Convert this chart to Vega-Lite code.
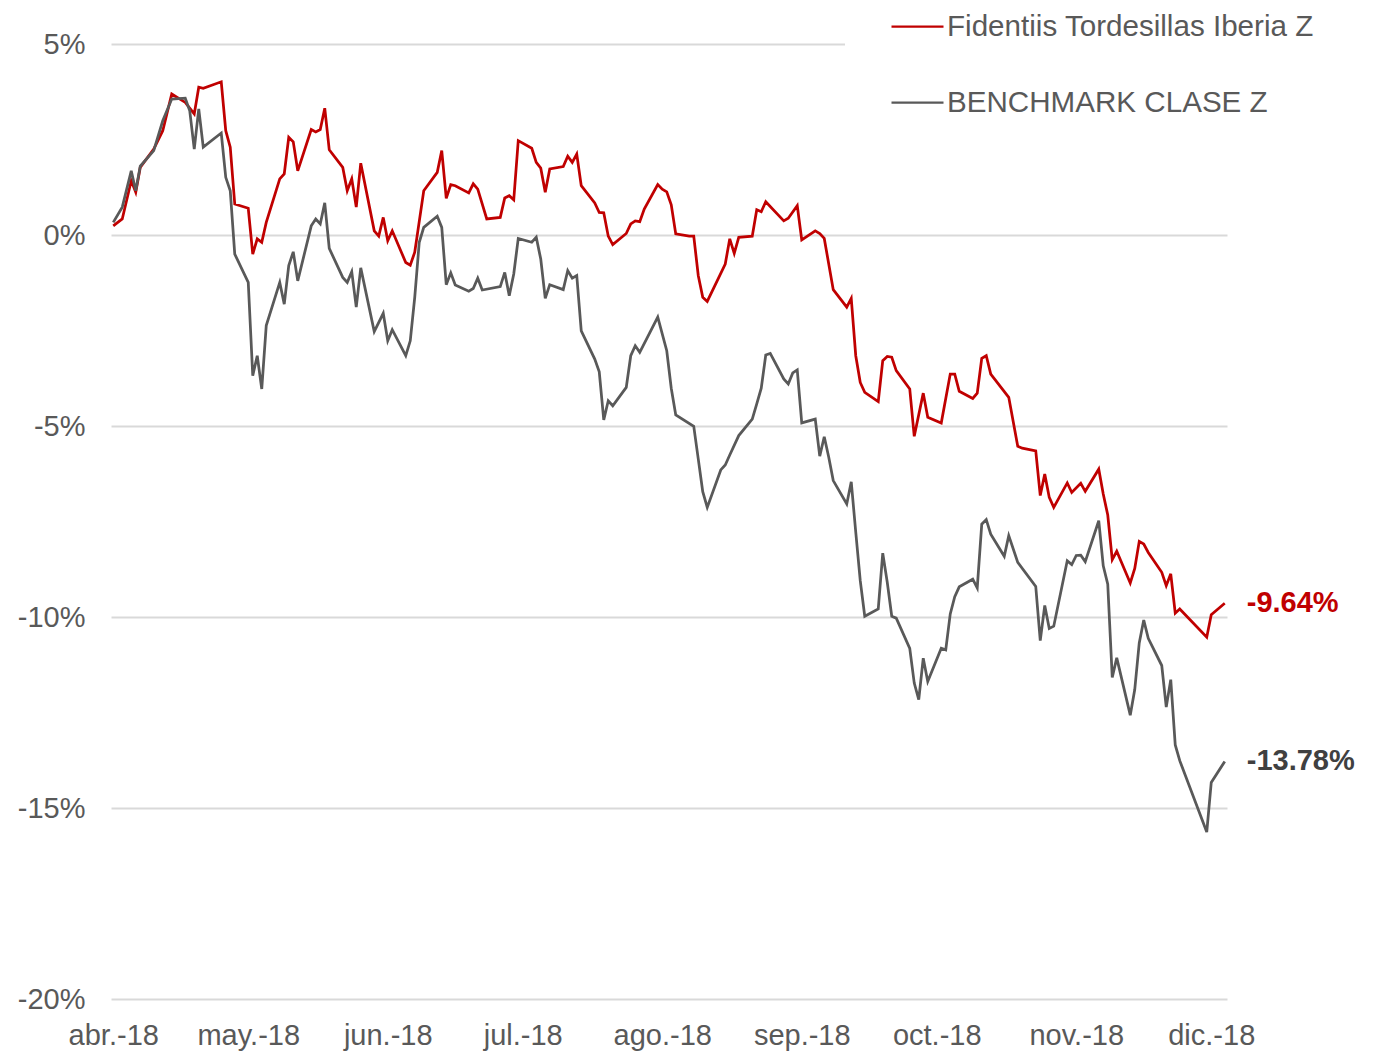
{
  "$schema": "https://vega.github.io/schema/vega-lite/v6.json",
  "width": 1116,
  "height": 955,
  "autosize": "none",
  "padding": {"left": 111, "top": 44, "right": 150, "bottom": 54},
  "background": "white",
  "config": {
    "view": {"stroke": null},
    "font": "Liberation Sans",
    "locale": {
      "number": {"decimal": ".", "thousands": ",", "grouping": [3], "currency": ["", " €"], "minus": "-", "percent": "%"},
      "time": {
        "dateTime": "%A, %e de %B de %Y, %X",
        "date": "%d/%m/%Y",
        "time": "%H:%M:%S",
        "periods": ["AM", "PM"],
        "days": ["domingo", "lunes", "martes", "miércoles", "jueves", "viernes", "sábado"],
        "shortDays": ["dom", "lun", "mar", "mié", "jue", "vie", "sáb"],
        "months": ["enero", "febrero", "marzo", "abril", "mayo", "junio", "julio", "agosto", "septiembre", "octubre", "noviembre", "diciembre"],
        "shortMonths": ["ene.", "feb.", "mar.", "abr.", "may.", "jun.", "jul.", "ago.", "sep.", "oct.", "nov.", "dic."]
      }
    }
  },
  "datasets": {
    "fid": [
      {"date":"2018-04-01","v":0.0024},{"date":"2018-04-03","v":0.0042},{"date":"2018-04-05","v":0.0142},{"date":"2018-04-06","v":0.0112},{"date":"2018-04-07","v":0.0177},
      {"date":"2018-04-10","v":0.0225},{"date":"2018-04-12","v":0.0273},{"date":"2018-04-14","v":0.0369},{"date":"2018-04-17","v":0.0347},{"date":"2018-04-19","v":0.0317},
      {"date":"2018-04-20","v":0.0387},{"date":"2018-04-21","v":0.0384},{"date":"2018-04-25","v":0.0401},{"date":"2018-04-26","v":0.0273},{"date":"2018-04-27","v":0.0230},
      {"date":"2018-04-28","v":0.0081},{"date":"2018-05-01","v":0.0070},{"date":"2018-05-02","v":-0.0050},{"date":"2018-05-03","v":-0.0010},{"date":"2018-05-04","v":-0.0019},
      {"date":"2018-05-05","v":0.0033},{"date":"2018-05-08","v":0.0147},{"date":"2018-05-09","v":0.0160},{"date":"2018-05-10","v":0.0256},{"date":"2018-05-11","v":0.0244},
      {"date":"2018-05-12","v":0.0168},{"date":"2018-05-15","v":0.0276},{"date":"2018-05-16","v":0.0270},{"date":"2018-05-17","v":0.0276},{"date":"2018-05-18","v":0.0332},
      {"date":"2018-05-19","v":0.0223},{"date":"2018-05-22","v":0.0177},{"date":"2018-05-23","v":0.0116},{"date":"2018-05-24","v":0.0147},{"date":"2018-05-25","v":0.0073},
      {"date":"2018-05-26","v":0.0188},{"date":"2018-05-29","v":0.0011},{"date":"2018-05-30","v":-0.0003},{"date":"2018-05-31","v":0.0046},{"date":"2018-06-01","v":-0.0015},
      {"date":"2018-06-02","v":0.0011},{"date":"2018-06-05","v":-0.0072},{"date":"2018-06-06","v":-0.0079},{"date":"2018-06-07","v":-0.0045},{"date":"2018-06-09","v":0.0116},
      {"date":"2018-06-12","v":0.0164},{"date":"2018-06-13","v":0.0221},{"date":"2018-06-14","v":0.0096},{"date":"2018-06-15","v":0.0132},{"date":"2018-06-16","v":0.0129},
      {"date":"2018-06-19","v":0.0110},{"date":"2018-06-20","v":0.0134},{"date":"2018-06-21","v":0.0120},{"date":"2018-06-23","v":0.0042},{"date":"2018-06-26","v":0.0046},
      {"date":"2018-06-27","v":0.0097},{"date":"2018-06-28","v":0.0103},{"date":"2018-06-29","v":0.0092},{"date":"2018-06-30","v":0.0247},{"date":"2018-07-03","v":0.0227},
      {"date":"2018-07-04","v":0.0190},{"date":"2018-07-05","v":0.0175},{"date":"2018-07-06","v":0.0112},{"date":"2018-07-07","v":0.0173},{"date":"2018-07-10","v":0.0179},
      {"date":"2018-07-11","v":0.0206},{"date":"2018-07-12","v":0.0190},{"date":"2018-07-13","v":0.0212},{"date":"2018-07-14","v":0.0129},{"date":"2018-07-17","v":0.0084},
      {"date":"2018-07-18","v":0.0059},{"date":"2018-07-19","v":0.0058},{"date":"2018-07-20","v":-0.0003},{"date":"2018-07-21","v":-0.0025},{"date":"2018-07-24","v":0.0004},
      {"date":"2018-07-25","v":0.0029},{"date":"2018-07-26","v":0.0037},{"date":"2018-07-27","v":0.0035},{"date":"2018-07-28","v":0.0068},{"date":"2018-07-31","v":0.0132},
      {"date":"2018-08-01","v":0.0120},{"date":"2018-08-02","v":0.0113},{"date":"2018-08-03","v":0.0079},{"date":"2018-08-04","v":0.0003},{"date":"2018-08-07","v":-0.0003},
      {"date":"2018-08-08","v":-0.0003},{"date":"2018-08-09","v":-0.0106},{"date":"2018-08-10","v":-0.0163},{"date":"2018-08-11","v":-0.0174},{"date":"2018-08-15","v":-0.0076},
      {"date":"2018-08-16","v":-0.0010},{"date":"2018-08-17","v":-0.0048},{"date":"2018-08-18","v":-0.0006},{"date":"2018-08-21","v":-0.0003},{"date":"2018-08-22","v":0.0066},
      {"date":"2018-08-23","v":0.0061},{"date":"2018-08-24","v":0.0087},{"date":"2018-08-28","v":0.0037},{"date":"2018-08-29","v":0.0044},{"date":"2018-08-31","v":0.0077},
      {"date":"2018-09-01","v":-0.0013},{"date":"2018-09-04","v":0.0011},{"date":"2018-09-05","v":0.0004},{"date":"2018-09-06","v":-0.0009},{"date":"2018-09-08","v":-0.0143},
      {"date":"2018-09-11","v":-0.0189},{"date":"2018-09-12","v":-0.0166},{"date":"2018-09-13","v":-0.0316},{"date":"2018-09-14","v":-0.0386},{"date":"2018-09-15","v":-0.0412},
      {"date":"2018-09-18","v":-0.0436},{"date":"2018-09-19","v":-0.0329},{"date":"2018-09-20","v":-0.0318},{"date":"2018-09-21","v":-0.0320},{"date":"2018-09-22","v":-0.0355},
      {"date":"2018-09-25","v":-0.0403},{"date":"2018-09-26","v":-0.0527},{"date":"2018-09-28","v":-0.0414},{"date":"2018-09-29","v":-0.0477},{"date":"2018-10-02","v":-0.0492},
      {"date":"2018-10-04","v":-0.0364},{"date":"2018-10-05","v":-0.0364},{"date":"2018-10-06","v":-0.0409},{"date":"2018-10-09","v":-0.0428},{"date":"2018-10-10","v":-0.0414},
      {"date":"2018-10-11","v":-0.0323},{"date":"2018-10-12","v":-0.0316},{"date":"2018-10-13","v":-0.0364},{"date":"2018-10-17","v":-0.0425},{"date":"2018-10-19","v":-0.0553},
      {"date":"2018-10-20","v":-0.0558},{"date":"2018-10-23","v":-0.0565},{"date":"2018-10-24","v":-0.0682},{"date":"2018-10-25","v":-0.0626},{"date":"2018-10-26","v":-0.0687},
      {"date":"2018-10-27","v":-0.0713},{"date":"2018-10-30","v":-0.0649},{"date":"2018-10-31","v":-0.0674},{"date":"2018-11-02","v":-0.0650},{"date":"2018-11-03","v":-0.0671},
      {"date":"2018-11-06","v":-0.0613},{"date":"2018-11-07","v":-0.0678},{"date":"2018-11-08","v":-0.0733},{"date":"2018-11-09","v":-0.0850},{"date":"2018-11-10","v":-0.0828},
      {"date":"2018-11-13","v":-0.0911},{"date":"2018-11-14","v":-0.0873},{"date":"2018-11-15","v":-0.0802},{"date":"2018-11-16","v":-0.0809},{"date":"2018-11-17","v":-0.0831},
      {"date":"2018-11-20","v":-0.0883},{"date":"2018-11-21","v":-0.0918},{"date":"2018-11-22","v":-0.0887},{"date":"2018-11-23","v":-0.0990},{"date":"2018-11-24","v":-0.0979},
      {"date":"2018-11-30","v":-0.1053},{"date":"2018-12-01","v":-0.0994},{"date":"2018-12-04","v":-0.0964}
    ],
    "bench": [
      {"date":"2018-04-01","v":0.0033},{"date":"2018-04-03","v":0.0073},{"date":"2018-04-05","v":0.0168},{"date":"2018-04-06","v":0.0116},{"date":"2018-04-07","v":0.0180},
      {"date":"2018-04-10","v":0.0221},{"date":"2018-04-12","v":0.0299},{"date":"2018-04-14","v":0.0356},{"date":"2018-04-17","v":0.0358},{"date":"2018-04-18","v":0.0325},
      {"date":"2018-04-19","v":0.0225},{"date":"2018-04-20","v":0.0330},{"date":"2018-04-21","v":0.0230},{"date":"2018-04-25","v":0.0267},{"date":"2018-04-26","v":0.0151},
      {"date":"2018-04-27","v":0.0116},{"date":"2018-04-28","v":-0.0050},{"date":"2018-05-01","v":-0.0124},{"date":"2018-05-02","v":-0.0368},{"date":"2018-05-03","v":-0.0316},
      {"date":"2018-05-04","v":-0.0403},{"date":"2018-05-05","v":-0.0237},{"date":"2018-05-08","v":-0.0124},{"date":"2018-05-09","v":-0.0181},{"date":"2018-05-10","v":-0.0080},
      {"date":"2018-05-11","v":-0.0044},{"date":"2018-05-12","v":-0.0120},{"date":"2018-05-15","v":0.0024},{"date":"2018-05-16","v":0.0042},{"date":"2018-05-17","v":0.0029},
      {"date":"2018-05-18","v":0.0084},{"date":"2018-05-19","v":-0.0035},{"date":"2018-05-22","v":-0.0111},{"date":"2018-05-23","v":-0.0124},{"date":"2018-05-24","v":-0.0096},
      {"date":"2018-05-25","v":-0.0189},{"date":"2018-05-26","v":-0.0086},{"date":"2018-05-29","v":-0.0253},{"date":"2018-05-31","v":-0.0205},{"date":"2018-06-01","v":-0.0277},
      {"date":"2018-06-02","v":-0.0248},{"date":"2018-06-05","v":-0.0316},{"date":"2018-06-06","v":-0.0277},{"date":"2018-06-07","v":-0.0163},{"date":"2018-06-08","v":-0.0019},
      {"date":"2018-06-09","v":0.0020},{"date":"2018-06-12","v":0.0049},{"date":"2018-06-13","v":0.0020},{"date":"2018-06-14","v":-0.0130},{"date":"2018-06-15","v":-0.0099},
      {"date":"2018-06-16","v":-0.0131},{"date":"2018-06-19","v":-0.0147},{"date":"2018-06-20","v":-0.0140},{"date":"2018-06-21","v":-0.0113},{"date":"2018-06-22","v":-0.0144},
      {"date":"2018-06-26","v":-0.0135},{"date":"2018-06-27","v":-0.0098},{"date":"2018-06-28","v":-0.0159},{"date":"2018-06-29","v":-0.0102},{"date":"2018-06-30","v":-0.0009},
      {"date":"2018-07-03","v":-0.0019},{"date":"2018-07-04","v":-0.0006},{"date":"2018-07-05","v":-0.0063},{"date":"2018-07-06","v":-0.0166},{"date":"2018-07-07","v":-0.0130},
      {"date":"2018-07-10","v":-0.0143},{"date":"2018-07-11","v":-0.0093},{"date":"2018-07-12","v":-0.0113},{"date":"2018-07-13","v":-0.0106},{"date":"2018-07-14","v":-0.0251},
      {"date":"2018-07-17","v":-0.0325},{"date":"2018-07-18","v":-0.0358},{"date":"2018-07-19","v":-0.0484},{"date":"2018-07-20","v":-0.0434},{"date":"2018-07-21","v":-0.0447},
      {"date":"2018-07-24","v":-0.0399},{"date":"2018-07-25","v":-0.0316},{"date":"2018-07-26","v":-0.0290},{"date":"2018-07-27","v":-0.0307},{"date":"2018-07-31","v":-0.0215},
      {"date":"2018-08-02","v":-0.0303},{"date":"2018-08-03","v":-0.0401},{"date":"2018-08-04","v":-0.0471},{"date":"2018-08-08","v":-0.0501},{"date":"2018-08-09","v":-0.0586},
      {"date":"2018-08-10","v":-0.0672},{"date":"2018-08-11","v":-0.0713},{"date":"2018-08-14","v":-0.0615},{"date":"2018-08-15","v":-0.0602},{"date":"2018-08-16","v":-0.0576},
      {"date":"2018-08-18","v":-0.0525},{"date":"2018-08-21","v":-0.0482},{"date":"2018-08-22","v":-0.0442},{"date":"2018-08-23","v":-0.0401},{"date":"2018-08-24","v":-0.0314},
      {"date":"2018-08-25","v":-0.0310},{"date":"2018-08-28","v":-0.0377},{"date":"2018-08-29","v":-0.0390},{"date":"2018-08-30","v":-0.0361},{"date":"2018-08-31","v":-0.0353},
      {"date":"2018-09-01","v":-0.0492},{"date":"2018-09-04","v":-0.0482},{"date":"2018-09-05","v":-0.0579},{"date":"2018-09-06","v":-0.0528},{"date":"2018-09-07","v":-0.0582},
      {"date":"2018-09-08","v":-0.0643},{"date":"2018-09-11","v":-0.0704},{"date":"2018-09-12","v":-0.0646},{"date":"2018-09-13","v":-0.0778},{"date":"2018-09-14","v":-0.0905},
      {"date":"2018-09-15","v":-0.0998},{"date":"2018-09-18","v":-0.0979},{"date":"2018-09-19","v":-0.0833},{"date":"2018-09-20","v":-0.0909},{"date":"2018-09-21","v":-0.0998},
      {"date":"2018-09-22","v":-0.1003},{"date":"2018-09-25","v":-0.1082},{"date":"2018-09-26","v":-0.1173},{"date":"2018-09-27","v":-0.1216},{"date":"2018-09-28","v":-0.1108},
      {"date":"2018-09-29","v":-0.1169},{"date":"2018-10-02","v":-0.1082},{"date":"2018-10-03","v":-0.1086},{"date":"2018-10-04","v":-0.0992},{"date":"2018-10-05","v":-0.0947},
      {"date":"2018-10-06","v":-0.0921},{"date":"2018-10-09","v":-0.0901},{"date":"2018-10-10","v":-0.0924},{"date":"2018-10-11","v":-0.0757},{"date":"2018-10-12","v":-0.0745},
      {"date":"2018-10-13","v":-0.0783},{"date":"2018-10-16","v":-0.0841},{"date":"2018-10-17","v":-0.0787},{"date":"2018-10-19","v":-0.0857},{"date":"2018-10-23","v":-0.0920},
      {"date":"2018-10-24","v":-0.1062},{"date":"2018-10-25","v":-0.0970},{"date":"2018-10-26","v":-0.1030},{"date":"2018-10-27","v":-0.1024},{"date":"2018-10-30","v":-0.0853},
      {"date":"2018-10-31","v":-0.0863},{"date":"2018-11-01","v":-0.0839},{"date":"2018-11-02","v":-0.0838},{"date":"2018-11-03","v":-0.0855},{"date":"2018-11-06","v":-0.0748},
      {"date":"2018-11-07","v":-0.0866},{"date":"2018-11-08","v":-0.0914},{"date":"2018-11-09","v":-0.1158},{"date":"2018-11-10","v":-0.1107},{"date":"2018-11-13","v":-0.1257},
      {"date":"2018-11-14","v":-0.1190},{"date":"2018-11-15","v":-0.1068},{"date":"2018-11-16","v":-0.1008},{"date":"2018-11-17","v":-0.1056},{"date":"2018-11-20","v":-0.1127},
      {"date":"2018-11-21","v":-0.1236},{"date":"2018-11-22","v":-0.1164},{"date":"2018-11-23","v":-0.1335},{"date":"2018-11-24","v":-0.1376},{"date":"2018-11-30","v":-0.1563},
      {"date":"2018-12-01","v":-0.1433},{"date":"2018-12-04","v":-0.1378}
    ],
    "ends": [
      {"date":"2018-12-04","serie":"Fidentiis Tordesillas Iberia Z","v":-0.0964},
      {"date":"2018-12-04","serie":"BENCHMARK CLASE Z","v":-0.1378}
    ]
  },
  "encoding": {
    "x": {
      "field": "date",
      "type": "temporal",
      "scale": {
        "type": "utc",
        "domain": [
          {"year": 2018, "month": 3, "date": 31, "hours": 12, "utc": true},
          {"year": 2018, "month": 12, "date": 4, "hours": 12, "utc": true}
        ]
      },
      "axis": {
        "title": null,
        "labelExpr": "utcFormat(datum.value, '%b-%y')",
        "tickCount": {"interval": "month", "step": 1},
        "domain": false,
        "ticks": false,
        "tickSize": 0,
        "grid": false,
        "labelPadding": 22,
        "labelFontSize": 29,
        "labelColor": "#595959",
        "labelFlush": false,
        "labelOverlap": false,
        "labelBound": false
      }
    },
    "y": {
      "field": "v",
      "type": "quantitative",
      "scale": {"domain": [-0.2, 0.05], "nice": false},
      "axis": {
        "title": null,
        "values": [-0.2, -0.15, -0.1, -0.05, 0, 0.05],
        "format": ".0%",
        "domain": false,
        "ticks": false,
        "tickSize": 0,
        "grid": true,
        "gridColor": "#D9D9D9",
        "gridWidth": 2,
        "labelPadding": 26,
        "labelFontSize": 29,
        "labelColor": "#595959"
      }
    }
  },
  "layer": [
    {
      "data": {"name": "fid"},
      "mark": {"type": "line", "strokeWidth": 2.75},
      "encoding": {
        "color": {
          "datum": "Fidentiis Tordesillas Iberia Z",
          "type": "nominal",
          "scale": {
            "domain": ["Fidentiis Tordesillas Iberia Z", "BENCHMARK CLASE Z"],
            "range": ["#C00000", "#595959"]
          },
          "legend": {
            "title": null,
            "orient": "none",
            "legendX": 734,
            "legendY": -90,
            "padding": 45,
            "fillColor": "white",
            "symbolType": "stroke",
            "symbolSize": 2704,
            "symbolStrokeWidth": 2.25,
            "labelFontSize": 29.6,
            "labelColor": "#595959",
            "labelOffset": 2,
            "labelLimit": 0,
            "rowPadding": 33
          }
        }
      }
    },
    {
      "data": {"name": "bench"},
      "mark": {"type": "line", "strokeWidth": 2.75},
      "encoding": {
        "color": {"datum": "BENCHMARK CLASE Z", "type": "nominal"}
      }
    },
    {
      "data": {"name": "ends"},
      "mark": {"type": "text", "align": "left", "baseline": "middle", "dx": 22, "fontSize": 29, "fontWeight": "bold"},
      "encoding": {
        "text": {"field": "v", "type": "quantitative", "format": ".2%"},
        "color": {
          "condition": {"test": "datum.serie === 'BENCHMARK CLASE Z'", "value": "#404040"},
          "value": "#C00000"
        }
      }
    }
  ]
}
